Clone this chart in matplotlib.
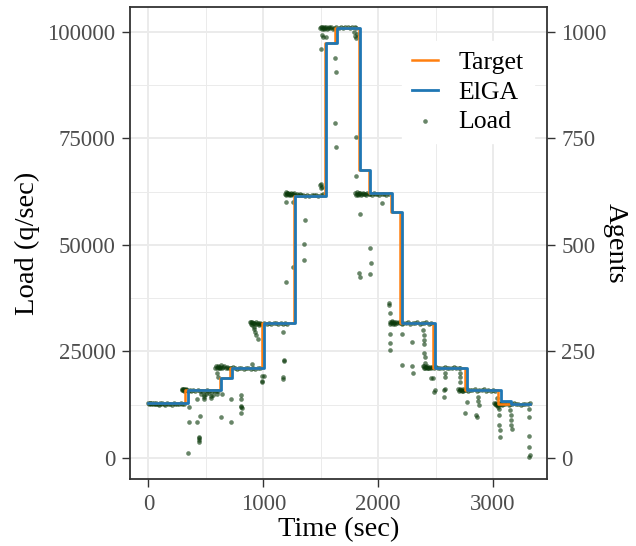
import matplotlib
matplotlib.use("Agg")
import matplotlib.pyplot as plt
from matplotlib.ticker import MultipleLocator

plt.rcParams['font.family'] = ['Liberation Serif', 'DejaVu Serif']

# target load steps (time the step starts, load in q/sec)
target_t = [0, 322, 625, 707, 988, 1264, 1539, 1626, 1829, 1916, 2110, 2191, 2481, 2757, 3040, 3322]
target_y = [12800, 15900, 18700, 21050, 31600, 61500, 97300, 100800, 67600, 62100, 57600, 31600,
            21050, 15950, 12700, 12700]

# ElGA agents (x100 on the load axis)
elga_t = [0, 348, 632, 728, 1003, 1278, 1548, 1640, 1843, 1930, 2124, 2206, 2496, 2777, 3067, 3160, 3322]
elga_y = [12800, 15900, 18700, 21050, 31600, 61500, 97300, 100800, 67600, 62100, 57600, 31600,
          21050, 15950, 13300, 12700, 12700]

# measured load, grouped by step
load_step1 = [(0, 12900), (6, 12700), (12, 12800), (18, 12950), (24, 12600), (30, 12800), (38, 12700),
              (46, 12900), (54, 12750), (62, 12600), (70, 12850), (80, 12700), (90, 12500), (100, 12800),
              (110, 12650), (122, 12900), (135, 12700), (148, 12400), (160, 12800), (175, 12650),
              (190, 12750), (205, 12500), (220, 12800), (235, 12600), (250, 12750), (265, 12550),
              (280, 12800), (295, 12650), (310, 12700)]
load_step2 = [(290, 16100), (296, 16000), (300, 16200), (305, 15900), (310, 16100), (314, 15800),
              (318, 16000), (324, 16200), (330, 15900), (336, 16050), (345, 15800), (360, 15900),
              (375, 15700), (390, 15850), (410, 15700), (430, 15900), (450, 15600), (470, 15800),
              (490, 15700), (510, 15900), (530, 15650), (550, 15800), (570, 15700), (590, 15600),
              (605, 15800), (351, 11900), (351, 8500), (345, 1250), (423, 8500), (446, 9850),
              (438, 5000), (438, 4600), (440, 4200), (438, 3850), (423, 13900), (484, 14800),
              (484, 14200), (486, 13800), (545, 14500), (545, 14100), (597, 15000), (632, 9700),
              (641, 15000), (460, 15000), (500, 14900), (530, 15300), (565, 14800)]
load_step3 = [(583, 21200), (590, 21500), (596, 21000), (602, 21300), (608, 21600), (614, 21100),
              (620, 21400), (626, 21200), (632, 21700), (640, 21000), (650, 21300), (660, 21500),
              (672, 21100), (684, 21300), (696, 21000), (708, 21200), (720, 21000), (735, 21400),
              (600, 20000), (602, 19000)]
load_step4 = [(750, 21100), (770, 20900), (790, 21200), (810, 21000), (830, 20900), (850, 21100),
              (870, 21000), (890, 20800), (901, 22100), (910, 21000), (930, 20900), (950, 21100),
              (970, 21000), (722, 13800), (722, 8500), (809, 14800), (809, 13800), (809, 12200),
              (809, 11900), (811, 11700), (809, 10600), (988, 19200), (990, 18100), (1003, 19200),
              (986, 17900), (887, 31800), (892, 32000), (896, 31500), (900, 31900), (905, 31200),
              (910, 31700), (915, 30800), (918, 31600), (922, 30200), (926, 31400), (930, 29500),
              (935, 31800), (940, 28800), (945, 31500), (950, 27900), (955, 31700), (960, 31300),
              (968, 31600), (975, 31400)]
load_step5 = [(990, 31500), (1010, 31700), (1030, 31400), (1050, 31600), (1070, 31500), (1090, 31700),
              (1110, 31600), (1130, 31400), (1150, 31600), (1170, 31500), (1190, 31700), (1206, 31400),
              (1171, 29500), (1177, 23000), (1183, 22800), (1171, 18900), (1173, 18600), (1200, 41400),
              (1357, 46400), (1255, 44900)]
load_step6 = [(1191, 62000), (1196, 62300), (1200, 61800), (1205, 62100), (1210, 61900), (1215, 62200),
              (1220, 61700), (1226, 62000), (1232, 61900), (1238, 62200), (1245, 61800), (1252, 62000),
              (1260, 61900), (1270, 62100), (1280, 61700), (1292, 61900), (1305, 61700), (1318, 61900),
              (1330, 61600), (1345, 61800), (1360, 61500), (1380, 61700), (1400, 61500), (1420, 61700),
              (1440, 61600), (1460, 61800), (1480, 61500), (1500, 61700), (1520, 61900), (1200, 60100),
              (1255, 60100), (1365, 55800), (1357, 50200), (1496, 64000), (1498, 63300), (1502, 64300),
              (1510, 63500)]
load_top = [(1496, 100900), (1502, 101200), (1508, 100700), (1514, 101000), (1520, 100800),
            (1526, 101100), (1532, 100600), (1538, 100900), (1545, 101000), (1552, 100700),
            (1560, 100900), (1570, 101100), (1580, 100800), (1592, 101000), (1605, 100700),
            (1618, 100900), (1635, 101200), (1655, 100900), (1675, 101100), (1695, 100800),
            (1715, 101000), (1735, 101200), (1755, 100900), (1775, 101000), (1795, 101100),
            (1810, 100800), (1510, 99200), (1518, 98800), (1548, 98700), (1502, 95900), (1626, 93800),
            (1635, 90600), (1626, 78600), (1635, 73000), (1809, 75200), (1805, 66200), (1791, 100000),
            (1800, 99000), (1806, 98500), (1815, 99500)]
load_step10 = [(1800, 62100), (1806, 61800), (1812, 62300), (1818, 62000), (1824, 61700), (1830, 62200),
               (1836, 61900), (1842, 62100), (1850, 61800), (1858, 62000), (1866, 62200), (1875, 61900),
               (1885, 62000), (1895, 61800), (1905, 62100), (1918, 61900), (1930, 62000), (1945, 61800),
               (1960, 62100), (1975, 61900), (1990, 62000), (2010, 61800), (2030, 62000), (2050, 61900),
               (2070, 61700), (2090, 61900), (1843, 57200), (1925, 49300), (1937, 45800), (1930, 43200),
               (1837, 43300), (1840, 42500), (2032, 59900), (2093, 36300), (2098, 35900), (2104, 34100),
               (2100, 31400), (2104, 29200), (2104, 27000), (2104, 25300)]
load_step11 = [(2104, 31900), (2110, 31600), (2116, 32100), (2122, 31800), (2128, 31500), (2134, 32000),
               (2140, 31700), (2147, 31400), (2155, 31800), (2165, 31600), (2178, 31900), (2190, 31700),
               (2205, 31500), (2220, 31700), (2240, 31600), (2260, 31800), (2280, 31500), (2300, 31700),
               (2320, 31600), (2340, 31800), (2360, 31500), (2380, 31700), (2400, 31600), (2420, 31800),
               (2440, 31500), (2460, 31700), (2206, 29100), (2206, 21800), (2293, 27300), (2293, 21600),
               (2301, 19900), (2394, 30000), (2396, 28900), (2398, 27700), (2400, 26800), (2402, 24600),
               (2404, 23700), (2408, 22400), (2412, 21400)]
load_step12 = [(2391, 21500), (2397, 21200), (2403, 21600), (2409, 21000), (2415, 21400), (2421, 21100),
               (2428, 21500), (2435, 21200), (2442, 21000), (2450, 21400), (2460, 21200), (2470, 21300),
               (2485, 21100), (2500, 21300), (2520, 21000), (2540, 21200), (2560, 21100), (2580, 21300),
               (2600, 21000), (2620, 21200), (2640, 21100), (2660, 21300), (2680, 21000), (2700, 21200),
               (2715, 21000), (2464, 18700), (2481, 18700), (2490, 15550), (2496, 16000), (2574, 16000),
               (2576, 14200), (2583, 19900), (2585, 19100), (2583, 16100), (2713, 19900), (2713, 18900),
               (2715, 17900)]
load_step13 = [(2696, 16100), (2702, 15800), (2708, 16200), (2714, 15900), (2720, 16000), (2727, 15700),
               (2734, 16100), (2741, 15800), (2750, 16000), (2760, 15900), (2772, 16100), (2785, 15800),
               (2800, 16000), (2820, 15900), (2840, 16100), (2860, 15800), (2880, 16000), (2900, 15900),
               (2920, 16100), (2940, 15800), (2960, 16000), (2980, 15700), (3000, 15900), (3020, 15800),
               (2771, 13200), (2757, 10600), (2852, 10100), (2872, 14400), (2872, 13400), (2874, 12400),
               (2864, 9600), (3030, 14000), (3032, 12400)]
load_step14 = [(3010, 12900), (3016, 12600), (3022, 12800), (3028, 12500), (3034, 12700), (3040, 12400),
               (3048, 12800), (3056, 12600), (3066, 12700), (3078, 12500), (3090, 12700), (3105, 12600),
               (3120, 12800), (3135, 12500), (3150, 12700), (3165, 12600), (3180, 12800), (3200, 12600),
               (3220, 12700), (3240, 12500), (3260, 12700), (3280, 12600), (3300, 12700), (3318, 12800),
               (3044, 11900), (3050, 11500), (3052, 10100), (3055, 7700), (3058, 6600), (3061, 4900),
               (3148, 11300), (3152, 10100), (3155, 8900), (3158, 7700), (3162, 6700), (3316, 11400),
               (3316, 9600), (3316, 5200), (3316, 2500), (3316, 300), (3318, 600)]

load = (load_step1 + load_step2 + load_step3 + load_step4 + load_step5 + load_step6 + load_top
        + load_step10 + load_step11 + load_step12 + load_step13 + load_step14)
load_t = [p[0] for p in load]
load_y = [p[1] for p in load]

fig = plt.figure(figsize=(6.36, 5.46), dpi=100)
ax = fig.add_axes([0.2044, 0.1227, 0.6549, 0.8645])

grid_col = "#EBEBEB"
ax.set_facecolor("white")
ax.xaxis.set_major_locator(MultipleLocator(1000))
ax.xaxis.set_minor_locator(MultipleLocator(500))
ax.yaxis.set_major_locator(MultipleLocator(25000))
ax.yaxis.set_minor_locator(MultipleLocator(12500))
ax.grid(which="major", color=grid_col, lw=1.4)
ax.grid(which="minor", color=grid_col, lw=0.7)
ax.set_axisbelow(True)

ax.scatter(load_t, load_y, s=11, color="#0b3a0b", alpha=0.62, lw=0, zorder=2, label="Load")
ax.step(target_t, target_y, where="post", color="#ff7f0e", lw=1.8, zorder=3, label="Target")
ax.step(elga_t, elga_y, where="post", color="#1f77b4", lw=2.0, zorder=4, label="ElGA")

ax.set_xlim(-160, 3465)
ax.set_ylim(-4930, 105800)

for s in ax.spines.values():
    s.set_color("#333333")
    s.set_linewidth(1.3)

ax.tick_params(which="major", length=5.5, width=1, color="#333333", labelsize=16.5, labelcolor="#4d4d4d", pad=5)
ax.tick_params(which="minor", length=0)
ax.set_xlabel("Time (sec)", fontsize=20.5, labelpad=2)
ax.set_ylabel("Load (q/sec)", fontsize=20.5, labelpad=5)

ax2 = ax.twinx()
ax2.set_ylim(-49.3, 1058)
ax2.yaxis.set_major_locator(MultipleLocator(250))
ax2.tick_params(length=5.5, width=1, color="#333333", labelsize=16.5, labelcolor="#4d4d4d", pad=5)
ax2.set_ylabel("Agents", fontsize=20.5, rotation=-90, labelpad=15)
for s in ax2.spines.values():
    s.set_visible(False)

h, l = ax.get_legend_handles_labels()
order = [l.index("Target"), l.index("ElGA"), l.index("Load")]
leg = ax.legend([h[i] for i in order], [l[i] for i in order], loc="upper right",
                bbox_to_anchor=(1.0, 0.955), fontsize=18.5, frameon=True, fancybox=False,
                edgecolor="white", framealpha=1, handlelength=1.0, handletextpad=0.8,
                labelspacing=0.25, markerscale=1.0, borderpad=0.4)
leg.set_zorder(5)

fig.savefig("out.png", dpi=100)
